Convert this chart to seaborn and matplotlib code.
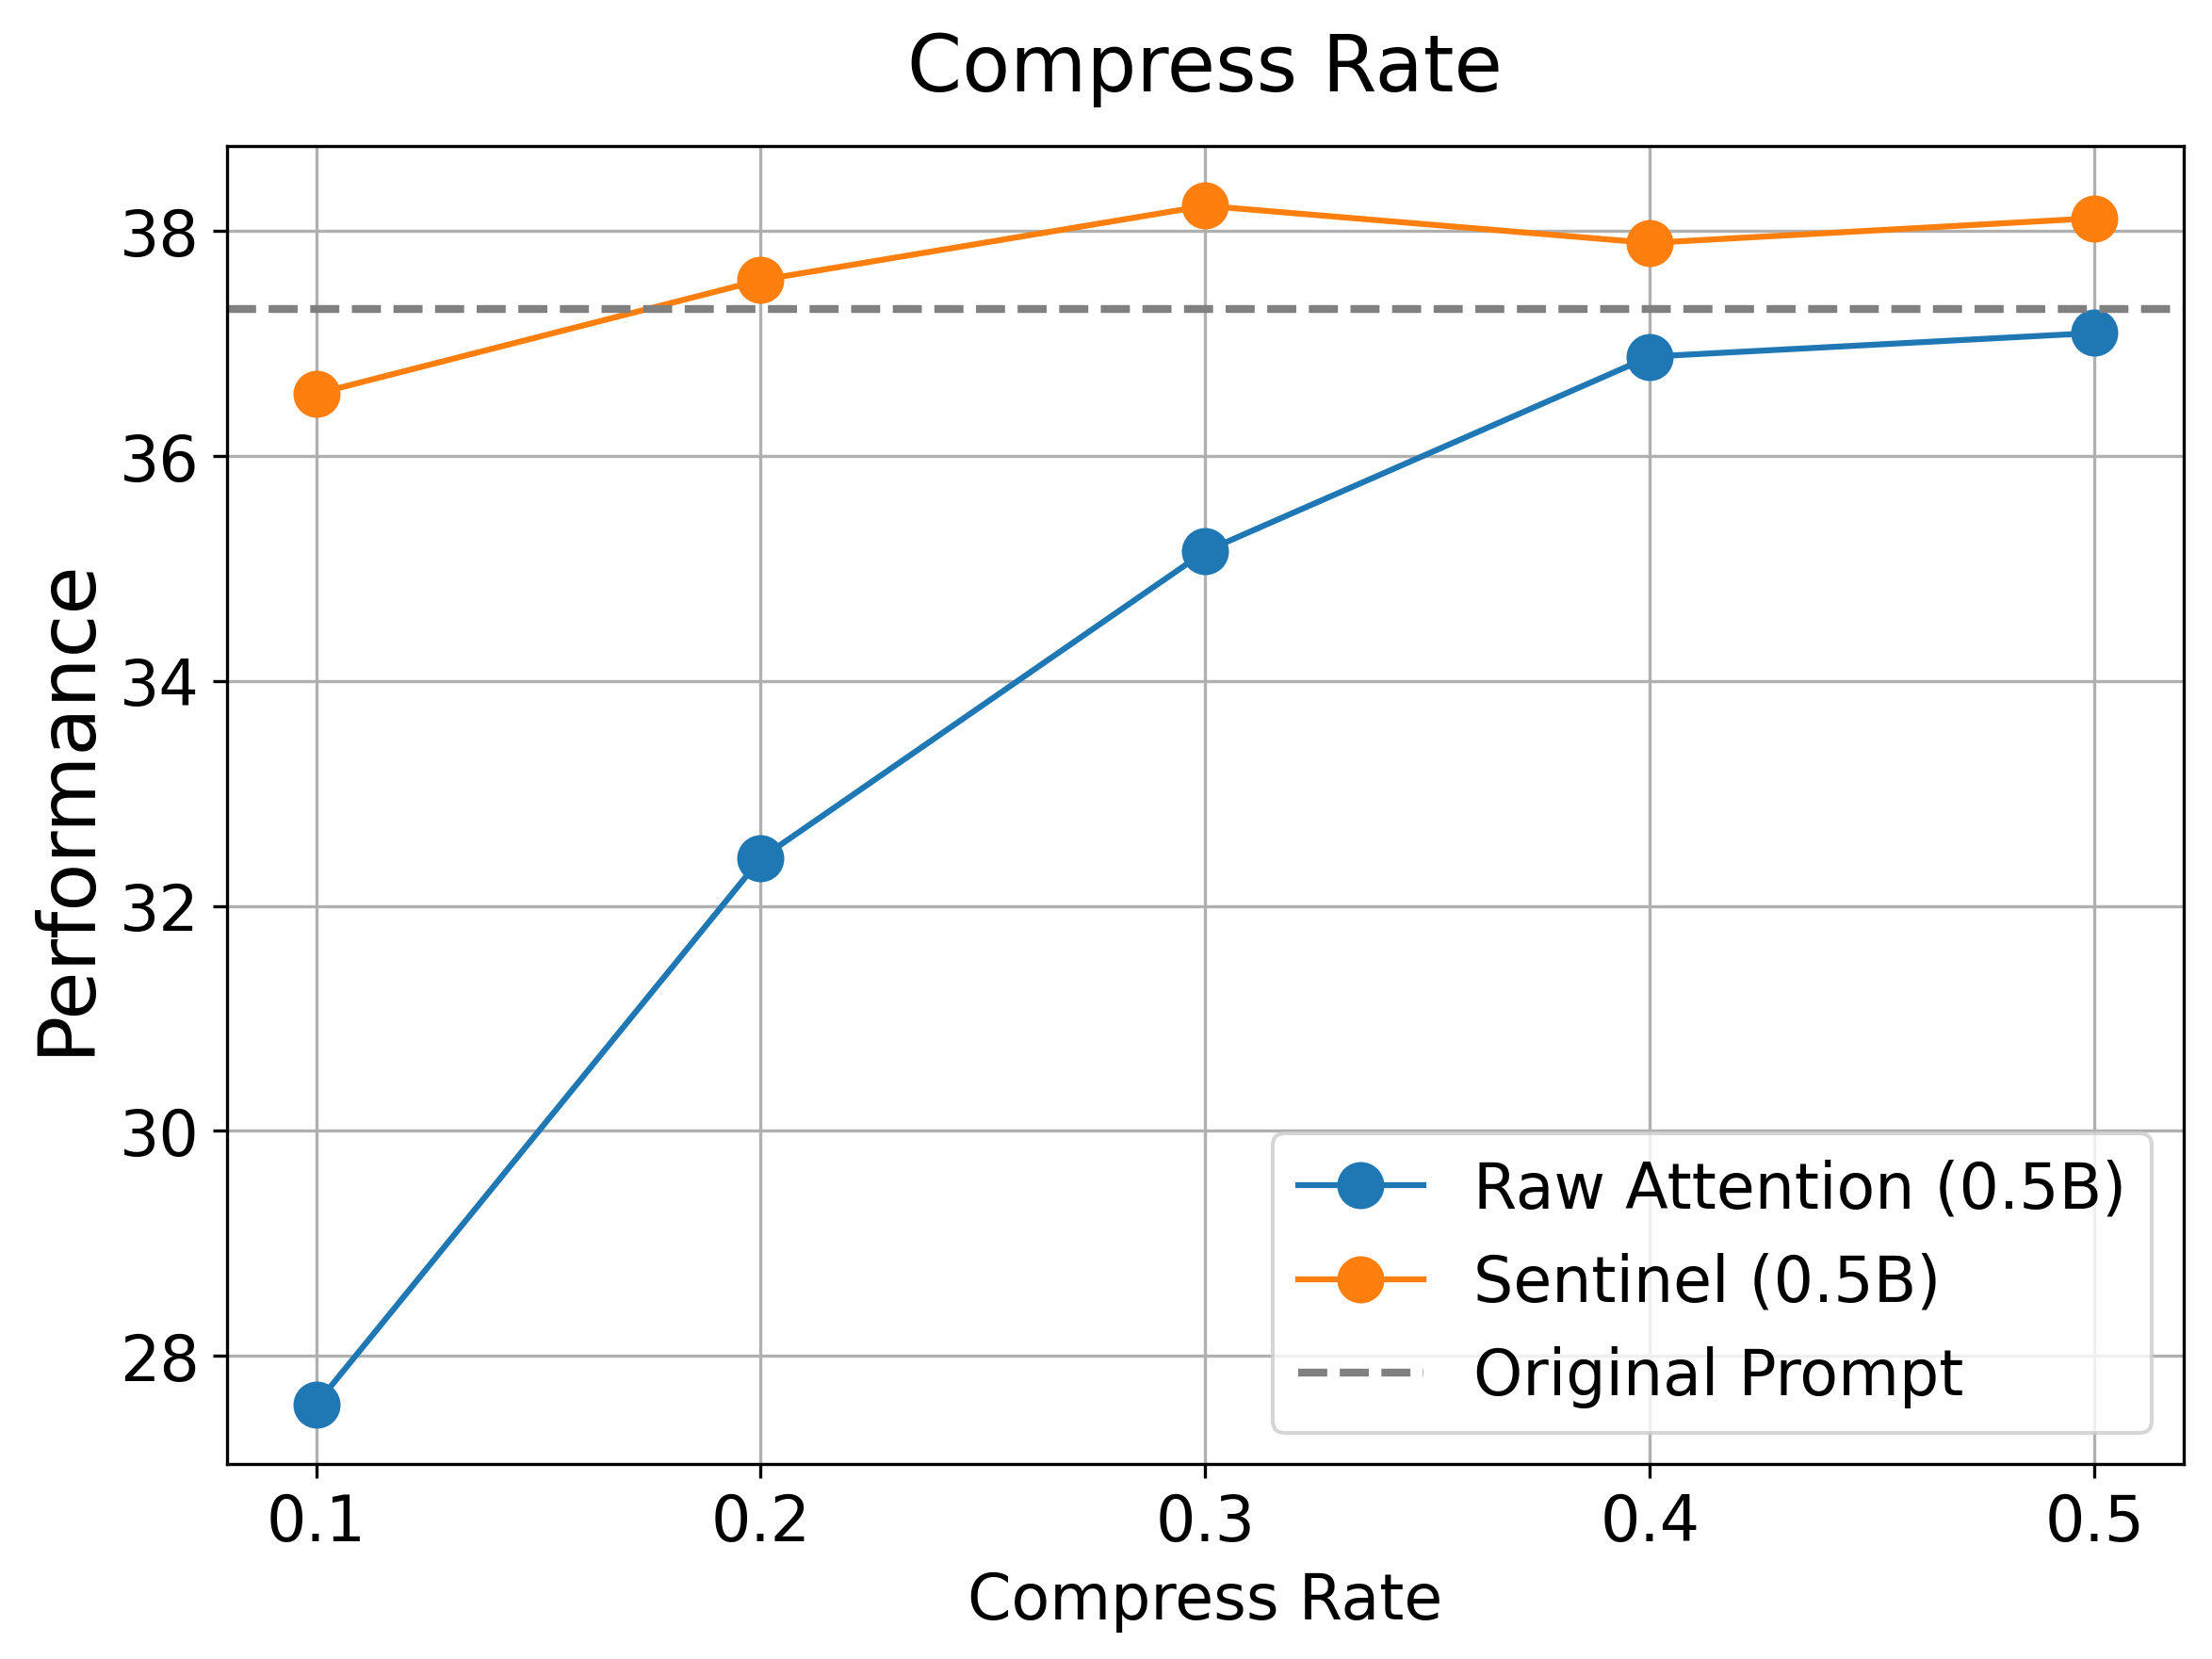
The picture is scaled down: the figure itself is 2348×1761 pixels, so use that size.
import matplotlib
matplotlib.use("Agg")
from matplotlib import pyplot as plt
import seaborn as sns
import pandas as pd

compress_rate = [0.1, 0.2, 0.3, 0.4, 0.5]
raw_attention = [27.57, 32.42, 35.15, 36.88, 37.09]
sentinel = [36.55, 37.56, 38.22, 37.89, 38.11]
original_prompt = 37.3

df = pd.DataFrame({'rate': compress_rate, 'raw': raw_attention, 'sentinel': sentinel})

fig, ax = plt.subplots(figsize=(7.827, 5.873), dpi=300)
sns.lineplot(data=df, x='rate', y='raw', marker='o', markersize=12, markeredgewidth=0,
             color='#1f77b4', label='Raw Attention (0.5B)', ax=ax)
sns.lineplot(data=df, x='rate', y='sentinel', marker='o', markersize=12, markeredgewidth=0,
             color='#ff7f0e', label='Sentinel (0.5B)', ax=ax)
ax.axhline(original_prompt, color='gray', linestyle='--', linewidth=2, label='Original Prompt')

ax.set_title('Compress Rate', fontsize=20, pad=14)
ax.set_xlabel('Compress Rate', fontsize=16)
ax.set_ylabel('Performance', fontsize=20)
ax.set_xticks(compress_rate)
ax.tick_params(labelsize=16)
ax.grid(True)
ax.legend(loc='lower right', fontsize=16)

plt.subplots_adjust(left=0.1027, right=0.987, top=0.9116, bottom=0.1173)
plt.savefig('out.png', dpi=300)
